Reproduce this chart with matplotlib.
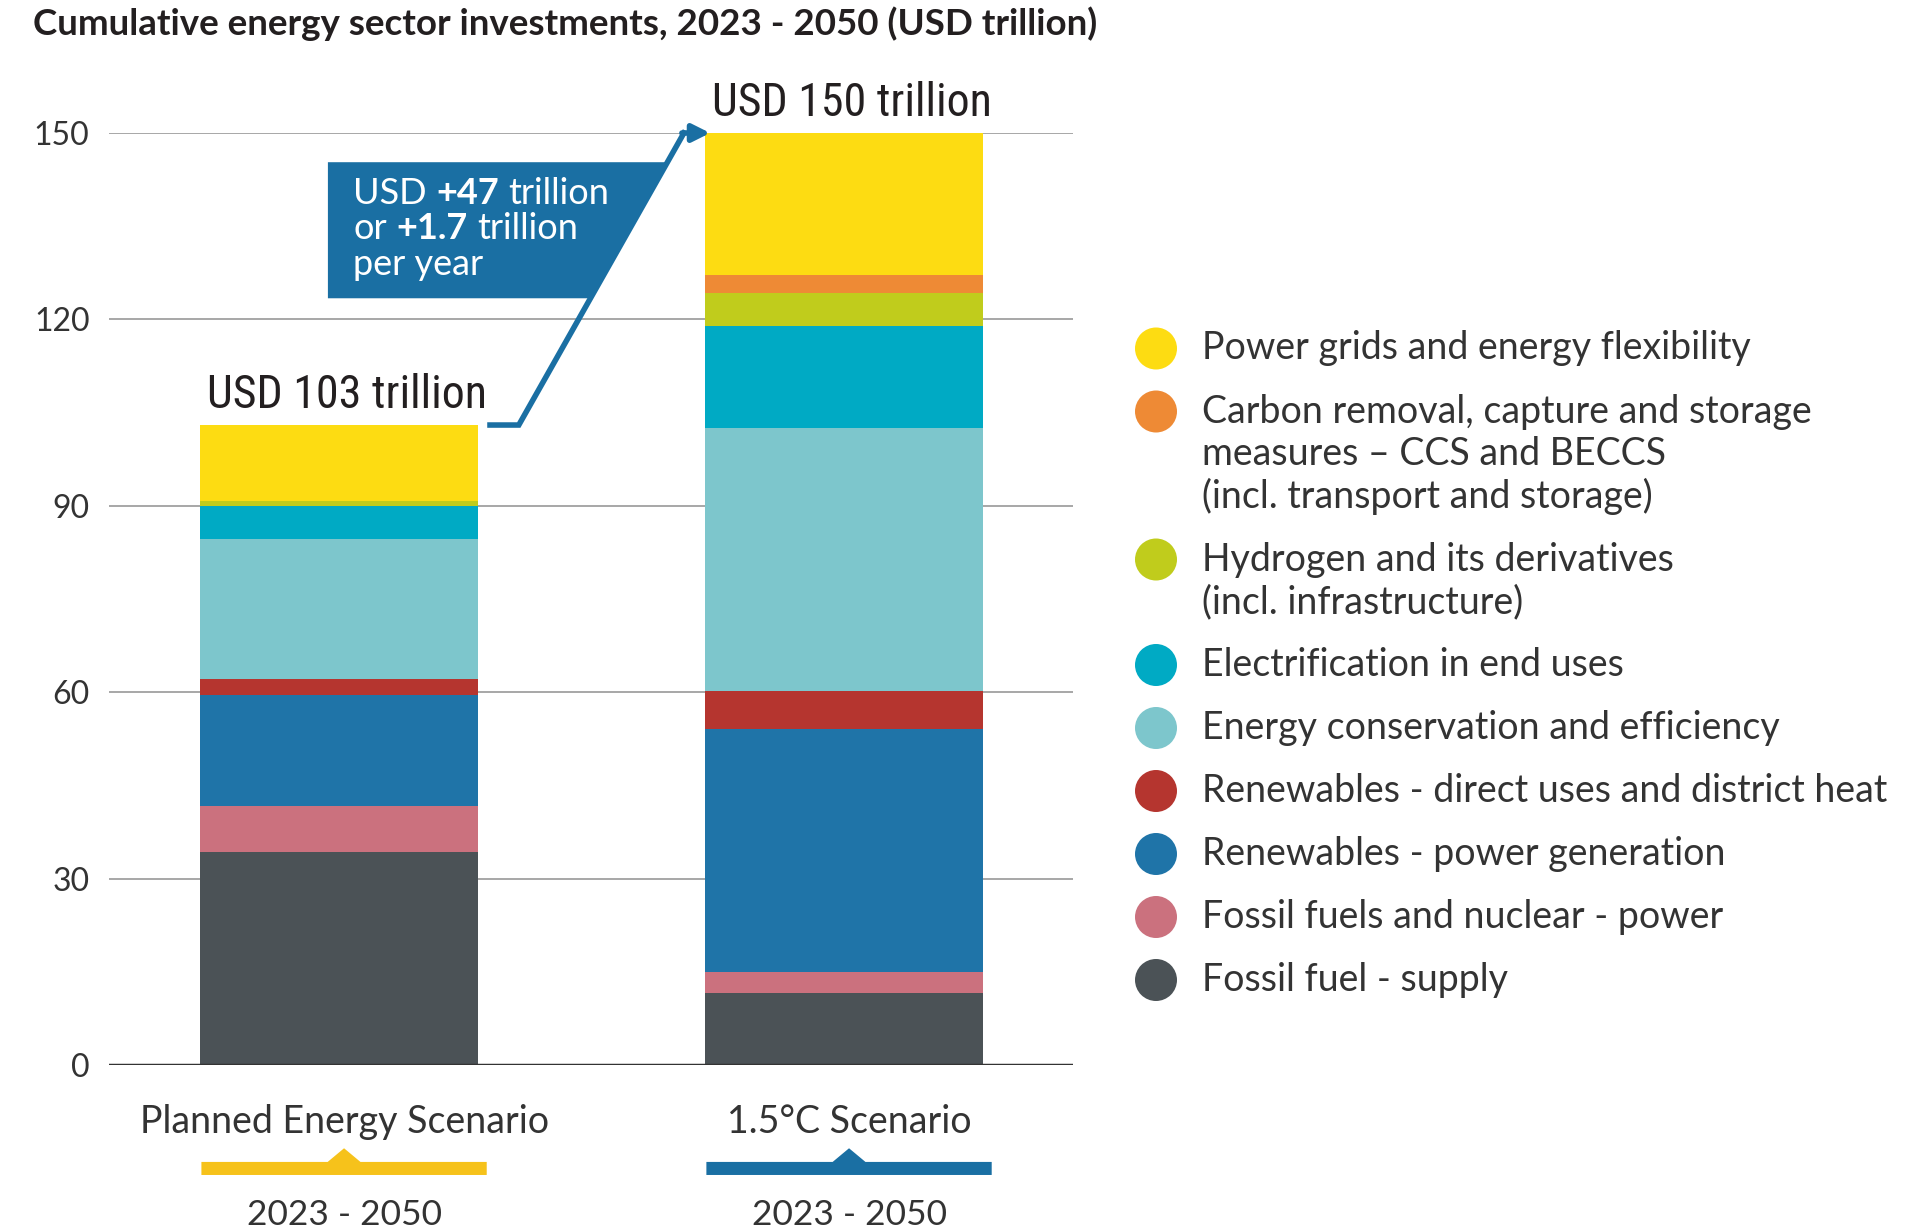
import matplotlib
matplotlib.use("Agg")
import matplotlib.pyplot as plt
from matplotlib import font_manager
from matplotlib.patches import Polygon, Circle
import numpy as np

SCENARIOS = ["Planned Energy Scenario", "1.5°C Scenario"]
PERIODS = ["2023 - 2050", "2023 - 2050"]
TOTALS = [103, 150]
YEARS = 28  # 2023-2050 inclusive

# stacking order, bottom to top (USD trillion)
CATEGORIES = [
    "Fossil fuel - supply",
    "Fossil fuels and nuclear - power",
    "Renewables - power generation",
    "Renewables - direct uses and district heat",
    "Energy conservation and efficiency",
    "Electrification in end uses",
    "Hydrogen and its derivatives\n(incl. infrastructure)",
    "Carbon removal, capture and storage\nmeasures \u2013 CCS and BECCS\n(incl. transport and storage)",
    "Power grids and energy flexibility",
]
PLANNED = [34.3, 7.4, 17.9, 2.5, 22.6, 5.3, 0.8, 0.0, 12.2]
SCEN_15C = [11.6, 3.4, 39.0, 6.2, 42.4, 16.3, 5.4, 2.8, 22.9]
COLORS = ["#4b5256", "#cb717e", "#1f74a8", "#b5352f", "#7dc6cc",
          "#00aac4", "#c0cc1c", "#ee8a35", "#fddc12"]

BLUE = "#1a6fa3"
YELLOW = "#f6c21b"
TEXT = "#231f20"

plt.rcParams["font.family"] = ["Lato", "DejaVu Sans"]

available = {f.name for f in font_manager.fontManager.ttflist}
NARROW = next((n for n in ["Roboto Condensed", "Liberation Sans Narrow",
                           "Open Sans Condensed"] if n in available), "DejaVu Sans")

W, H = 1906, 1232
fig = plt.figure(figsize=(W / 100, H / 100), dpi=100)
ax = fig.add_axes([109 / W, 167 / H, 964 / W, 932 / H])

# stacked bars
x = np.arange(len(SCENARIOS))
BAR_W = 0.549
data = np.array([PLANNED, SCEN_15C])
bottom = np.zeros(len(SCENARIOS))
for i, color in enumerate(COLORS):
    ax.bar(x, data[:, i], BAR_W, bottom=bottom, color=color, linewidth=0, zorder=2)
    bottom += data[:, i]

ax.set_xlim(-0.4555, 1.4535)
ax.set_ylim(0, 150)
ax.set_yticks(np.arange(0, 151, 30))
ax.set_xticks([])
ax.yaxis.grid(True, color="#a0a0a0", linewidth=1.3)
ax.set_axisbelow(True)
ax.tick_params(axis="y", length=0, pad=14, labelsize=23, labelcolor="#333333")
for s in ax.spines.values():
    s.set_visible(False)
ax.axhline(0, color="#333333", linewidth=2.5, zorder=3)

# totals above bars
for xi, tot in zip(x, TOTALS):
    ax.text(xi + 0.015, tot + 2.8, f"USD {tot} trillion", ha="center", va="baseline",
            fontsize=33, family=NARROW, fontstretch="condensed", color=TEXT,
            clip_on=False)

# callout line from one total to the other
lo, hi = TOTALS
line_x = [0.299, 0.356, 0.683]
line_y = [lo, lo, hi]


def x_on_line(y):
    return line_x[1] + (y - lo) / (hi - lo) * (line_x[2] - line_x[1])


box_b, box_t = 123.4, 145.3
box = Polygon([(-0.022, box_b), (-0.022, box_t), (x_on_line(box_t), box_t),
               (x_on_line(box_b), box_b)], closed=True, facecolor=BLUE,
              edgecolor="none", zorder=4, clip_on=False)
ax.add_patch(box)
ax.plot(line_x, line_y, color=BLUE, linewidth=4, solid_joinstyle="miter",
        clip_on=False, zorder=5)
ax.annotate("", xy=(0.735, hi), xytext=(line_x[2] - 0.004, hi),
            arrowprops=dict(arrowstyle="-|>", color=BLUE, lw=4, mutation_scale=26,
                            shrinkA=0, shrinkB=0),
            annotation_clip=False, zorder=5)

diff = hi - lo
callout = [
    [("USD", "normal"), (f"+{diff:.0f}", "bold"), ("trillion", "normal")],
    [("or", "normal"), (f"+{diff / YEARS:.1f}", "bold"), ("trillion", "normal")],
    [("per year", "normal")],
]
cfs = 26
for row, yy in zip(callout, [140.3, 134.7, 128.9]):
    prev = None
    for txt, wt in row:
        if prev is None:
            prev = ax.text(0.028, yy, txt, fontsize=cfs, fontweight=wt, color="white",
                           ha="left", va="center", zorder=6, clip_on=False)
        else:
            prev = ax.annotate(txt, xy=(1, 0.5), xycoords=prev,
                               xytext=(cfs * 0.26, 0), textcoords="offset points",
                               fontsize=cfs, fontweight=wt, color="white",
                               ha="left", va="center", zorder=6)

# scenario labels with coloured markers beneath
for xi, name, period, col in zip(x, SCENARIOS, PERIODS, [YELLOW, BLUE]):
    cx = xi + 0.01
    ax.text(cx, -9.1, name, ha="center", va="center", fontsize=27,
            color="#333333", clip_on=False)
    w, tw = 0.565, 0.065
    y0, y1, ytop = -17.7, -15.6, -13.4
    marker = Polygon([(cx - w / 2, y0), (cx + w / 2, y0), (cx + w / 2, y1),
                      (cx + tw / 2, y1), (cx, ytop), (cx - tw / 2, y1),
                      (cx - w / 2, y1)], closed=True, facecolor=col,
                     edgecolor="none", clip_on=False)
    ax.add_patch(marker)
    ax.text(cx, -24.1, period, ha="center", va="center", fontsize=25.5,
            color="#333333", clip_on=False)

# overlay in pixel coordinates for title and legend
ov = fig.add_axes([0, 0, 1, 1], zorder=-1)
ov.set_xlim(0, W)
ov.set_ylim(H, 0)
ov.axis("off")

ov.text(33, 24, "Cumulative energy sector investments, 2023 - 2050 (USD trillion)",
        ha="left", va="center", fontsize=26.5, fontweight="bold", color=TEXT)

y = 348.5
for label, color in zip(CATEGORIES[::-1], COLORS[::-1]):
    ov.add_patch(Circle((1156, y), 21, facecolor=color, edgecolor="none"))
    lines = label.split("\n")
    for k, ln in enumerate(lines):
        ov.text(1202, y + k * 42.5, ln, ha="left", va="center", fontsize=27,
                color="#333333")
    y += (len(lines) - 1) * 42.5 + 63

fig.savefig("out.png", dpi=100)
